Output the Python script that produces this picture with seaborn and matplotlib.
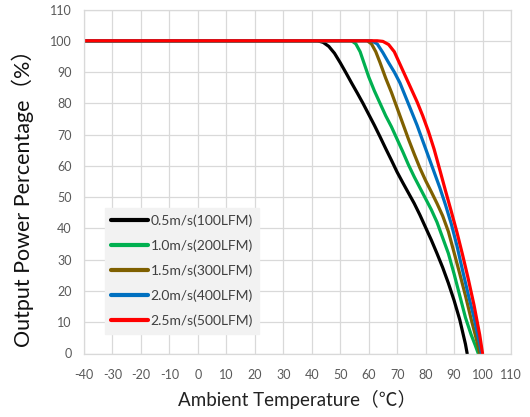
import matplotlib
matplotlib.use("Agg")
import matplotlib.pyplot as plt
import seaborn as sns
import pandas as pd

# Airflow conditions (legend labels)
series_names = [
    "0.5m/s(100LFM)",
    "1.0m/s(200LFM)",
    "1.5m/s(300LFM)",
    "2.0m/s(400LFM)",
    "2.5m/s(500LFM)",
]

# Derating curves: ambient temperature (°C) vs output power (%)
temp_05 = [-40, 42, 44, 46, 48, 50, 52, 54, 56, 58, 60, 62, 64, 66, 68, 70, 72, 74,
           76, 78, 80, 82, 84, 86, 88, 90, 92, 94, 94.6]
power_05 = [100, 100, 99.5, 98.2, 96, 93, 89.8, 86.5, 83.3, 80, 76.5, 73, 69.3, 65.5,
            61.8, 58, 54.6, 51.3, 48, 44.3, 40.3, 36.3, 32, 27.5, 22.5, 17, 10.8, 3, 0]

temp_10 = [-40, 54, 55.5, 57, 58.5, 60, 62, 64, 66, 68, 70, 72, 74, 76, 78, 80, 82, 84,
           86, 88, 90, 92, 94, 96, 97.5, 98.5]
power_10 = [100, 100, 99, 96.5, 92.5, 88.5, 84, 80, 76, 72.5, 68.5, 64.5, 60.3, 56.5, 53,
            49.5, 46, 42, 37, 32, 25.5, 18.5, 11.5, 6, 2.5, 0]

temp_15 = [-40, 59.5, 61, 62.5, 64, 66, 68, 70, 72, 74, 76, 78, 80, 82, 84, 86, 88, 90,
           92, 94, 96, 98, 99]
power_15 = [100, 100, 99, 96.5, 93, 88, 83.5, 78.5, 73.5, 68.5, 63.8, 59.3, 55.3, 51.7, 48,
            44, 39, 32.3, 25.5, 18.5, 11, 4, 0]

temp_20 = [-40, 61, 63, 65, 67, 69, 71, 73, 75, 77, 79, 81, 83, 85, 87, 89, 91, 93, 95,
           97, 99, 99.6]
power_20 = [100, 100, 99, 96.2, 93, 90, 86.5, 82, 77.5, 73, 68, 63, 58, 53, 47.5, 41.5,
            34.5, 26.5, 18.8, 11.5, 3, 0]

temp_25 = [-40, 63, 65, 67, 69, 71, 73, 75, 77, 79, 81, 83, 85, 87, 89, 91, 93, 95, 97,
           99, 100]
power_25 = [100, 100, 99.8, 98.8, 96.5, 92.5, 88.5, 84.5, 80.5, 76, 71, 65.3, 58.7, 52,
            45.5, 38.8, 31.5, 23.8, 15.5, 6, 0]

x_ticks = list(range(-40, 111, 10))
y_ticks = list(range(0, 111, 10))

line_colors = ["#000000", "#00B050", "#7F6000", "#0070C0", "#FF0000"]

frames = []
for name, t, p in zip(series_names,
                      [temp_05, temp_10, temp_15, temp_20, temp_25],
                      [power_05, power_10, power_15, power_20, power_25]):
    frames.append(pd.DataFrame({"temp": t, "power": p, "airflow": name}))
df = pd.concat(frames, ignore_index=True)

sns.set_style("white")
plt.rcParams["font.family"] = ["Lato", "Noto Sans CJK SC", "DejaVu Sans"]
label_fonts = ["Lato", "Noto Sans CJK SC", "DejaVu Sans"]

fig = plt.figure(figsize=(5.30, 4.17), dpi=100)
ax = fig.add_axes([84 / 530, 1 - 353.5 / 417, 427 / 530, 344 / 417])

sns.lineplot(data=df, x="temp", y="power", hue="airflow", hue_order=series_names,
             palette=line_colors, sort=False, estimator=None, units="airflow",
             linewidth=2.3, ax=ax)

ax.set_xlim(-40, 110)
ax.set_ylim(0, 110)
ax.set_xticks(x_ticks)
ax.set_yticks(y_ticks)
ax.set_xticklabels([str(v) for v in x_ticks], fontsize=9, color="#595959",
                   family=label_fonts)
ax.set_yticklabels([str(v) for v in y_ticks], fontsize=9, color="#595959",
                   family=label_fonts)
ax.tick_params(axis="both", length=0)
ax.tick_params(axis="x", pad=11)
ax.tick_params(axis="y", pad=9)

ax.grid(True, color="#d9d9d9", linewidth=0.9)
ax.set_axisbelow(True)
for s in ax.spines.values():
    s.set_color("#d9d9d9")
    s.set_linewidth(0.9)

ax.set_xlabel("Ambient Temperature（℃）", fontsize=13.5, color="#222222",
              family=label_fonts)
ax.xaxis.set_label_coords(0.5, -0.106)
ax.set_ylabel("Output Power Percentage（%）", fontsize=15.5, color="#111111",
              family=label_fonts)
ax.yaxis.set_label_coords(-0.116, 0.466)

leg = ax.legend(loc="upper left", bbox_to_anchor=(0.049, 0.422), frameon=True,
                facecolor="#f2f2f2", edgecolor="#f2f2f2", framealpha=1.0,
                fancybox=False, fontsize=10, handlelength=2.65, handletextpad=0.2,
                labelspacing=0.9, borderpad=0.45, borderaxespad=0)
for txt in leg.get_texts():
    txt.set_color("#404040")
for ln in leg.get_lines():
    ln.set_linewidth(3)

fig.savefig("out.png", dpi=100)
